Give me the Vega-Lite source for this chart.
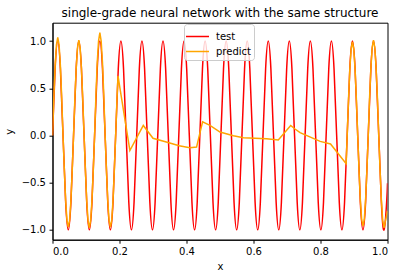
{
"$schema": "https://vega.github.io/schema/vega-lite/v6.json",
"width": 335, "height": 217,
"autosize": {"type": "none"},
"padding": {"left": 52.5, "top": 22.7, "right": 14.5, "bottom": 38.3},
"background": "white",
"config": {
 "font": "DejaVu Sans",
 "view": {"stroke": "black", "strokeWidth": 1},
 "axis": {"grid": false, "domainColor": "black", "tickColor": "black", "labelColor": "black", "titleColor": "black", "labelFontSize": 10, "titleFontSize": 10, "titleFontWeight": "normal", "tickSize": 3.5, "labelPadding": 3.5, "labelFont": "DejaVu Sans", "titleFont": "DejaVu Sans", "domainWidth": 1, "tickWidth": 1}
},
"title": {"text": "single-grade neural network with the same structure", "fontSize": 12, "fontWeight": "normal", "font": "DejaVu Sans", "anchor": "middle", "offset": 2.5, "color": "black"},
"datasets": {
 "test": [
 {"x":0,"y":0},{"x":0.00785,"y":0.7071},{"x":0.01571,"y":1},{"x":0.02356,"y":0.7071},{"x":0.03142,"y":0},{"x":0.03927,"y":-0.7071},{"x":0.04712,"y":-1},{"x":0.05498,"y":-0.7071},
 {"x":0.06283,"y":0},{"x":0.07069,"y":0.7071},{"x":0.07854,"y":1},{"x":0.08639,"y":0.7071},{"x":0.09425,"y":0},{"x":0.1021,"y":-0.7071},{"x":0.10996,"y":-1},{"x":0.11781,"y":-0.7071},
 {"x":0.12566,"y":0},{"x":0.13352,"y":0.7071},{"x":0.14137,"y":1},{"x":0.14923,"y":0.7071},{"x":0.15708,"y":0},{"x":0.16493,"y":-0.7071},{"x":0.17279,"y":-1},{"x":0.18064,"y":-0.7071},
 {"x":0.1885,"y":0},{"x":0.19635,"y":0.7071},{"x":0.2042,"y":1},{"x":0.21206,"y":0.7071},{"x":0.21991,"y":0},{"x":0.22777,"y":-0.7071},{"x":0.23562,"y":-1},{"x":0.24347,"y":-0.7071},
 {"x":0.25133,"y":0},{"x":0.25918,"y":0.7071},{"x":0.26704,"y":1},{"x":0.27489,"y":0.7071},{"x":0.28274,"y":0},{"x":0.2906,"y":-0.7071},{"x":0.29845,"y":-1},{"x":0.30631,"y":-0.7071},
 {"x":0.31416,"y":0},{"x":0.32201,"y":0.7071},{"x":0.32987,"y":1},{"x":0.33772,"y":0.7071},{"x":0.34558,"y":0},{"x":0.35343,"y":-0.7071},{"x":0.36128,"y":-1},{"x":0.36914,"y":-0.7071},
 {"x":0.37699,"y":0},{"x":0.38485,"y":0.7071},{"x":0.3927,"y":1},{"x":0.40055,"y":0.7071},{"x":0.40841,"y":0},{"x":0.41626,"y":-0.7071},{"x":0.42412,"y":-1},{"x":0.43197,"y":-0.7071},
 {"x":0.43982,"y":0},{"x":0.44768,"y":0.7071},{"x":0.45553,"y":1},{"x":0.46339,"y":0.7071},{"x":0.47124,"y":0},{"x":0.47909,"y":-0.7071},{"x":0.48695,"y":-1},{"x":0.4948,"y":-0.7071},
 {"x":0.50265,"y":0},{"x":0.51051,"y":0.7071},{"x":0.51836,"y":1},{"x":0.52622,"y":0.7071},{"x":0.53407,"y":0},{"x":0.54192,"y":-0.7071},{"x":0.54978,"y":-1},{"x":0.55763,"y":-0.7071},
 {"x":0.56549,"y":0},{"x":0.57334,"y":0.7071},{"x":0.58119,"y":1},{"x":0.58905,"y":0.7071},{"x":0.5969,"y":0},{"x":0.60476,"y":-0.7071},{"x":0.61261,"y":-1},{"x":0.62046,"y":-0.7071},
 {"x":0.62832,"y":0},{"x":0.63617,"y":0.7071},{"x":0.64403,"y":1},{"x":0.65188,"y":0.7071},{"x":0.65973,"y":0},{"x":0.66759,"y":-0.7071},{"x":0.67544,"y":-1},{"x":0.6833,"y":-0.7071},
 {"x":0.69115,"y":0},{"x":0.699,"y":0.7071},{"x":0.70686,"y":1},{"x":0.71471,"y":0.7071},{"x":0.72257,"y":0},{"x":0.73042,"y":-0.7071},{"x":0.73827,"y":-1},{"x":0.74613,"y":-0.7071},
 {"x":0.75398,"y":0},{"x":0.76184,"y":0.7071},{"x":0.76969,"y":1},{"x":0.77754,"y":0.7071},{"x":0.7854,"y":0},{"x":0.79325,"y":-0.7071},{"x":0.80111,"y":-1},{"x":0.80896,"y":-0.7071},
 {"x":0.81681,"y":0},{"x":0.82467,"y":0.7071},{"x":0.83252,"y":1},{"x":0.84038,"y":0.7071},{"x":0.84823,"y":0},{"x":0.85608,"y":-0.7071},{"x":0.86394,"y":-1},{"x":0.87179,"y":-0.7071},
 {"x":0.87965,"y":0},{"x":0.8875,"y":0.7071},{"x":0.89535,"y":1},{"x":0.90321,"y":0.7071},{"x":0.91106,"y":0},{"x":0.91892,"y":-0.7071},{"x":0.92677,"y":-1},{"x":0.93462,"y":-0.7071},
 {"x":0.94248,"y":0},{"x":0.95033,"y":0.7071},{"x":0.95819,"y":1},{"x":0.96604,"y":0.7071},{"x":0.97389,"y":0},{"x":0.98175,"y":-0.7071},{"x":0.9896,"y":-1},{"x":0.99746,"y":-0.7071},
 {"x":1,"y":-0.5064}
 ],
 "predict": [
 {"x":0,"y":0},{"x":0.00393,"y":0.4},{"x":0.00785,"y":0.74},{"x":0.01178,"y":0.96},{"x":0.01571,"y":1.04},{"x":0.01963,"y":0.96},{"x":0.02356,"y":0.74},{"x":0.02749,"y":0.4},
 {"x":0.03142,"y":0},{"x":0.03534,"y":-0.37},{"x":0.03927,"y":-0.69},{"x":0.0432,"y":-0.9},{"x":0.04712,"y":-0.97},{"x":0.05105,"y":-0.9},{"x":0.05498,"y":-0.69},{"x":0.0589,"y":-0.37},
 {"x":0.06283,"y":0},{"x":0.06676,"y":0.39},{"x":0.07069,"y":0.71},{"x":0.07461,"y":0.93},{"x":0.07854,"y":1.01},{"x":0.08247,"y":0.93},{"x":0.08639,"y":0.71},{"x":0.09032,"y":0.39},
 {"x":0.09425,"y":0},{"x":0.09817,"y":-0.37},{"x":0.1021,"y":-0.69},{"x":0.10603,"y":-0.9},{"x":0.10996,"y":-0.98},{"x":0.11388,"y":-0.9},{"x":0.11781,"y":-0.69},{"x":0.12174,"y":-0.37},
 {"x":0.12566,"y":0},{"x":0.12959,"y":0.42},{"x":0.13352,"y":0.77},{"x":0.13744,"y":1.0},{"x":0.14137,"y":1.09},{"x":0.1453,"y":1.0},{"x":0.14923,"y":0.77},{"x":0.15315,"y":0.42},
 {"x":0.15708,"y":0},{"x":0.16101,"y":-0.37},{"x":0.16493,"y":-0.69},{"x":0.16886,"y":-0.9},{"x":0.17279,"y":-0.97},{"x":0.17671,"y":-0.9},{"x":0.18064,"y":-0.69},{"x":0.18457,"y":-0.37},
 {"x":0.1885,"y":0},{"x":0.19242,"y":0.38},{"x":0.1955,"y":0.63},
 {"x":0.231,"y":-0.16},{"x":0.271,"y":0.106},{"x":0.3,"y":-0.03},{"x":0.345,"y":-0.075},{"x":0.378,"y":-0.11},{"x":0.41,"y":-0.13},{"x":0.43,"y":-0.123},{"x":0.448,"y":0.145},
 {"x":0.47,"y":0.106},{"x":0.5,"y":0.036},{"x":0.54,"y":-0.003},{"x":0.57,"y":-0.024},{"x":0.639,"y":-0.035},{"x":0.674,"y":-0.049},{"x":0.711,"y":0.106},{"x":0.724,"y":0.068},
 {"x":0.739,"y":0.03},{"x":0.799,"y":-0.063},{"x":0.83,"y":-0.09},{"x":0.8766,"y":-0.3},
 {"x":0.87965,"y":0},{"x":0.88357,"y":0.38},{"x":0.8875,"y":0.7},{"x":0.89143,"y":0.915},{"x":0.89535,"y":0.99},{"x":0.89928,"y":0.915},{"x":0.90321,"y":0.7},{"x":0.90713,"y":0.38},
 {"x":0.91106,"y":0},{"x":0.91499,"y":-0.37},{"x":0.91892,"y":-0.68},{"x":0.92284,"y":-0.89},{"x":0.92677,"y":-0.96},{"x":0.9307,"y":-0.89},{"x":0.93462,"y":-0.68},{"x":0.93855,"y":-0.37},
 {"x":0.94248,"y":0},{"x":0.9464,"y":0.39},{"x":0.95033,"y":0.71},{"x":0.95426,"y":0.93},{"x":0.95819,"y":1.01},{"x":0.96211,"y":0.93},{"x":0.96604,"y":0.71},{"x":0.96997,"y":0.39},
 {"x":0.97389,"y":0},{"x":0.97782,"y":-0.37},{"x":0.98175,"y":-0.69},{"x":0.98567,"y":-0.9},{"x":0.9896,"y":-0.98},{"x":1,"y":-0.8}
 ]
},
"encoding": {
 "x": {"field": "x", "type": "quantitative", "scale": {"domain": [0, 1], "nice": false, "zero": false}, "axis": {"values": [0, 0.2, 0.4, 0.6, 0.8, 1.0], "format": ".1f", "title": "x", "titlePadding": 5}},
 "y": {"field": "y", "type": "quantitative", "scale": {"domain": [-1.1045, 1.1945], "nice": false, "zero": false}, "axis": {"values": [-1, -0.5, 0, 0.5, 1], "format": ".1f", "title": "y", "titlePadding": 7}}
},
"layer": [
 {"data": {"name": "test"}, "mark": {"type": "line", "interpolate": "natural", "strokeWidth": 1.5, "clip": true}, "encoding": {"color": {"datum": "test", "type": "nominal", "scale": {"domain": ["test", "predict"], "range": ["#ff0000", "#ffa500"]}, "legend": {"title": null, "orient": "none", "legendX": 131.5, "legendY": 1.3, "symbolType": "M-1.353,0H1.353", "symbolSize": 289, "symbolStrokeWidth": 1.5, "symbolOffset": 1, "labelFontSize": 10, "labelColor": "black", "labelOffset": 9, "padding": 3, "strokeColor": "#cccccc", "fillColor": "rgba(255,255,255,0.8)", "cornerRadius": 3, "rowPadding": -2}}}},
 {"data": {"name": "predict"}, "mark": {"type": "line", "interpolate": "linear", "strokeWidth": 1.5, "clip": true}, "encoding": {"color": {"datum": "predict", "type": "nominal"}}}
]
}
